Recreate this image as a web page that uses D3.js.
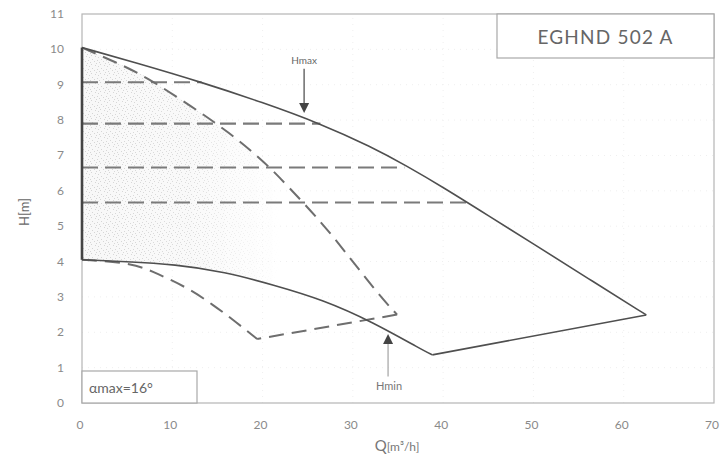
<!DOCTYPE html>
<html><head><meta charset="utf-8">
<script src="https://cdn.jsdelivr.net/npm/d3@7"></script>
<style>
html,body{margin:0;padding:0;background:#fff;}
svg{display:block;font-family:"Lato","DejaVu Sans",sans-serif;}
</style></head>
<body>
<script>
// ---- data ----
const xTicks = [0,10,20,30,40,50,60,70];
const yTicks = [0,1,2,3,4,5,6,7,8,9,10,11];
const hmaxQ = [0, 6, 13.25, 20, 26.4, 32, 36, 40, 45, 50, 56, 62.5];
const hmaxH = [10.05, 9.62, 9.07, 8.5, 7.9, 7.25, 6.7, 6.1, 5.3, 4.5, 3.53, 2.49];
const hminQ = [0, 4.8, 10.3, 15.8, 21.2, 26.7, 32.2, 37.7, 38.8];
const hminH = [4.05, 4.0, 3.92, 3.71, 3.34, 2.92, 2.29, 1.5, 1.36];
const dashUpQ = [0, 3.8, 7.0, 12.3, 16.3, 19.9, 21.8, 24.2, 27.6, 32.7, 34.9];
const dashUpH = [10.05, 9.63, 9.24, 8.36, 7.65, 6.88, 6.4, 5.75, 4.8, 3.1, 2.5];
const dashLowQ = [0, 5.7, 8.4, 11.7, 14.5, 16.9, 19.4];
const dashLowH = [4.05, 3.96, 3.65, 3.26, 2.78, 2.32, 1.81];
const levelH = [9.07, 7.9, 6.66, 5.67];
const levelQend = [13.25, 26.4, 35.7, 42.9];
const title = "EGHND 502 A";
const angleNote = "αmax=16°";

const W = 725, H = 461;
const x = d3.scaleLinear().domain([0,70]).range([82,714]);
const y = d3.scaleLinear().domain([0,11]).range([403,14]);

const svg = d3.select("body").append("svg").attr("width",W).attr("height",H);
const defs = svg.append("defs");

// stipple pattern
const pat = defs.append("pattern").attr("id","stip").attr("patternUnits","userSpaceOnUse")
  .attr("width",9).attr("height",9);
pat.append("rect").attr("width",9).attr("height",9).attr("fill","#f8f8f8");
[[1,1],[5,2],[2,5],[7,6],[0,8],[6,0],[4,7],[8,3]].forEach(p=>{
  pat.append("rect").attr("x",p[0]).attr("y",p[1]).attr("width",1).attr("height",1).attr("fill","#d4d4d4");
});
const grad = defs.append("linearGradient").attr("id","fade").attr("gradientUnits","userSpaceOnUse")
  .attr("x1",x(0)).attr("x2",x(22)).attr("y1",0).attr("y2",0);
grad.append("stop").attr("offset","0").attr("stop-color","#fff").attr("stop-opacity",1);
grad.append("stop").attr("offset","0.55").attr("stop-color","#fff").attr("stop-opacity",0.8);
grad.append("stop").attr("offset","1").attr("stop-color","#fff").attr("stop-opacity",0);
defs.append("mask").attr("id","fmask").append("rect")
  .attr("x",0).attr("y",0).attr("width",W).attr("height",H).attr("fill","url(#fade)");

// faint grid
const g = svg.append("g");
g.selectAll(".gx").data(xTicks.slice(1,-1)).join("line")
  .attr("x1",d=>x(d)).attr("x2",d=>x(d)).attr("y1",y(0)).attr("y2",y(11))
  .attr("stroke","#efefef").attr("stroke-dasharray","1,5");
g.selectAll(".gy").data(yTicks.slice(1,-1)).join("line")
  .attr("y1",d=>y(d)).attr("y2",d=>y(d)).attr("x1",x(0)).attr("x2",x(70))
  .attr("stroke","#efefef").attr("stroke-dasharray","1,5");

const ln = d3.line().x(d=>x(d[0])).y(d=>y(d[1])).curve(d3.curveBasis);
const lin = d3.line().x(d=>x(d[0])).y(d=>y(d[1]));

// stippled region
const upPts = dashUpQ.map((q,i)=>[q,dashUpH[i]]).filter(p=>p[0]<=24.2);
const minPts = hminQ.map((q,i)=>[q,hminH[i]]).filter(p=>p[0]<=21.2);
const fillPts = upPts.concat(minPts.slice().reverse());
svg.append("path")
  .attr("d", d3.line().x(d=>x(d[0])).y(d=>y(d[1])).curve(d3.curveLinearClosed)(fillPts))
  .attr("fill","url(#stip)").attr("mask","url(#fmask)");

// frame
svg.append("rect").attr("x",x(0)).attr("y",y(11)).attr("width",x(70)-x(0)).attr("height",y(0)-y(11))
  .attr("fill","none").attr("stroke","#b5b5b5").attr("stroke-width",1.2);

// title box
svg.append("rect").attr("x",497).attr("y",y(11)).attr("width",x(70)-497).attr("height",58-y(11))
  .attr("fill","#fff").attr("stroke","#a8a8a8").attr("stroke-width",1.2);
svg.append("text").attr("x",(497+x(70))/2).attr("y",44).attr("text-anchor","middle")
  .attr("font-size",19).attr("letter-spacing",1.2).attr("fill","#666").text(title);

// angle box
svg.append("rect").attr("x",x(0)).attr("y",371).attr("width",197-x(0)).attr("height",y(0)-371)
  .attr("fill","#fff").attr("stroke","#a8a8a8").attr("stroke-width",1.2);
svg.append("text").attr("x",89).attr("y",393).attr("font-size",14).attr("fill","#666").text(angleNote);

// axis tick labels
svg.selectAll(".xl").data(xTicks).join("text")
  .attr("x",d=>x(d)-2).attr("y",429).attr("text-anchor","middle")
  .attr("font-size",12).attr("fill","#8a8a8a").text(d=>d);
svg.selectAll(".yl").data(yTicks).join("text")
  .attr("x",64).attr("y",d=>y(d)+4).attr("text-anchor","end")
  .attr("font-size",12).attr("fill","#8a8a8a").text(d=>d);

// axis titles
const xt = svg.append("text").attr("x",397).attr("y",451).attr("text-anchor","middle")
  .attr("font-size",12).attr("fill","#777");
xt.append("tspan").attr("font-size",15).text("Q");
xt.append("tspan").text("[m³/h]");
svg.append("text").attr("transform","translate(29,212) rotate(-90)").attr("text-anchor","middle")
  .attr("font-size",13).attr("fill","#666").text("H[m]");

// dashed level lines
svg.selectAll(".lvl").data(levelH).join("line")
  .attr("x1",x(0)).attr("x2",(d,i)=>x(levelQend[i])).attr("y1",d=>y(d)).attr("y2",d=>y(d))
  .attr("stroke","#7a7a7a").attr("stroke-width",2.2).attr("stroke-dasharray","16,7");

// dashed envelope
const upAll = dashUpQ.map((q,i)=>[q,dashUpH[i]]);
const lowAll = dashLowQ.map((q,i)=>[q,dashLowH[i]]);
const dashStyle = s=>s.attr("fill","none").attr("stroke","#6e6e6e").attr("stroke-width",2)
  .attr("stroke-dasharray","15,8");
svg.append("path").attr("d",ln(upAll)).call(dashStyle);
svg.append("path").attr("d",ln(lowAll)).call(dashStyle);
svg.append("path").attr("d",lin([upAll[upAll.length-1], lowAll[lowAll.length-1]])).call(dashStyle);

// solid envelope
const maxPts = hmaxQ.map((q,i)=>[q,hmaxH[i]]);
const minAll = hminQ.map((q,i)=>[q,hminH[i]]);
const solid = s=>s.attr("fill","none").attr("stroke","#4f4f4f").attr("stroke-width",1.6);
svg.append("path").attr("d",ln(maxPts)).call(solid);
svg.append("path").attr("d",ln(minAll)).call(solid);
svg.append("path").attr("d",lin([minAll[minAll.length-1], maxPts[maxPts.length-1]])).call(solid);
// thick left edge
svg.append("line").attr("x1",x(0)).attr("x2",x(0)).attr("y1",y(hminH[0])).attr("y2",y(hmaxH[0]))
  .attr("stroke","#444").attr("stroke-width",2.6);

// annotations
function arrow(q, hFrom, hTip, col){
  const xp = x(q), y0 = y(hFrom), y1 = y(hTip);
  const dir = y1 > y0 ? 1 : -1;
  svg.append("line").attr("x1",xp).attr("x2",xp).attr("y1",y0).attr("y2",y1 - dir*9)
    .attr("stroke",col).attr("stroke-width",1.3);
  svg.append("path").attr("d",`M${xp-5},${y1-dir*10}L${xp+5},${y1-dir*10}L${xp},${y1}Z`)
    .attr("fill","#444");
}
arrow(24.6, 9.45, 8.2, "#555");
svg.append("text").attr("x",x(24.6)).attr("y",y(9.6)).attr("text-anchor","middle")
  .attr("font-size",10).attr("fill","#666").text("Hmax");
arrow(33.9, 0.75, 1.95, "#aaa");
svg.append("text").attr("x",x(34)).attr("y",y(0.38)).attr("text-anchor","middle")
  .attr("font-size",11).attr("fill","#777").text("Hmin");
</script>
</body></html>
